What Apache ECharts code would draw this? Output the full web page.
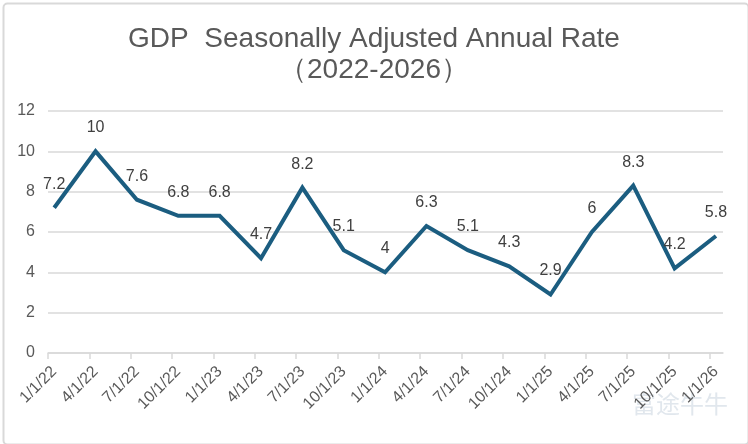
<!DOCTYPE html>
<html>
<head>
<meta charset="utf-8">
<script src="https://cdn.jsdelivr.net/npm/echarts@6/dist/echarts.min.js"></script>
<style>
  html, body { margin: 0; padding: 0; background: #fff; }
  #gdpChart { width: 748px; height: 444px; }
</style>
</head>
<body>
<div id="gdpChart"></div>
<script>
// quarters on the x axis
var quarters = ['1/1/22', '4/1/22', '7/1/22', '10/1/22', '1/1/23', '4/1/23', '7/1/23', '10/1/23',
  '1/1/24', '4/1/24', '7/1/24', '10/1/24', '1/1/25', '4/1/25', '7/1/25', '10/1/25', '1/1/26'];
// GDP, seasonally adjusted annual rate
var gdpRate = [7.2, 10, 7.6, 6.8, 6.8, 4.7, 8.2, 5.1, 4, 6.3, 5.1, 4.3, 2.9, 6, 8.3, 4.2, 5.8];
var yTicks = [0, 2, 4, 6, 8, 10, 12];

var labelPos = quarters.map(function (q, i) { return i; });
var tickPos = quarters.map(function (q, i) { return i - 0.15; });
var seriesData = gdpRate.map(function (v, i) { return [i, v]; });

var font = 'Liberation Sans, Arial, Helvetica, sans-serif';
var chart = echarts.init(document.getElementById('gdpChart'));
var option = {
  backgroundColor: '#ffffff',
  animation: false,
  title: {
    text: 'GDP  Seasonally Adjusted Annual Rate\n（2022-2026）',
    left: 'center',
    top: 19,
    textStyle: {
      color: '#595959',
      fontSize: 28,
      fontWeight: 'normal',
      fontFamily: font,
      lineHeight: 31
    }
  },
  grid: {
    left: 48,
    right: 25,
    top: 111,
    bottom: 91
  },
  xAxis: {
    type: 'value',
    min: -0.15,
    max: 16.17,
    splitLine: { show: false },
    axisLine: { show: true, lineStyle: { color: '#d9d9d9', width: 1.5 } },
    axisTick: {
      show: true,
      length: 6,
      customValues: tickPos,
      lineStyle: { color: '#d9d9d9', width: 1.5 }
    },
    axisLabel: {
      customValues: labelPos,
      rotate: 45,
      margin: 16,
      color: '#595959',
      fontSize: 16,
      fontFamily: font,
      formatter: function (v) { return quarters[Math.round(v)]; }
    }
  },
  yAxis: {
    type: 'value',
    min: yTicks[0],
    max: yTicks[yTicks.length - 1],
    interval: 2,
    axisLine: { show: false },
    axisTick: { show: false },
    splitLine: { lineStyle: { color: '#d9d9d9', width: 1.5 } },
    axisLabel: {
      margin: 13,
      color: '#595959',
      fontSize: 16,
      fontFamily: font
    }
  },
  series: [
    {
      type: 'line',
      data: seriesData,
      symbol: 'circle',
      symbolSize: 1,
      showSymbol: true,
      itemStyle: { color: 'rgba(0,0,0,0)' },
      lineStyle: { color: '#1b5d80', width: 4, join: 'miter' },
      label: {
        show: true,
        position: 'top',
        distance: 15,
        color: '#404040',
        fontSize: 16,
        fontFamily: font,
        formatter: function (p) { return p.value[1]; }
      },
      labelLayout: { hideOverlap: false }
    }
  ],
  graphic: [
    {
      type: 'rect',
      left: 1,
      top: 1,
      shape: { width: 745, height: 441, r: 4 },
      style: { fill: 'none', stroke: '#d9d9d9', lineWidth: 2 },
      silent: true
    },
    {
      type: 'text',
      right: 20,
      top: 392,
      style: {
        text: '富途牛牛',
        fill: '#e1e7ed',
        fontSize: 24,
        fontFamily: 'Noto Sans CJK SC'
      },
      silent: true,
      z: -1
    }
  ]
};
chart.setOption(option);
</script>
</body>
</html>
